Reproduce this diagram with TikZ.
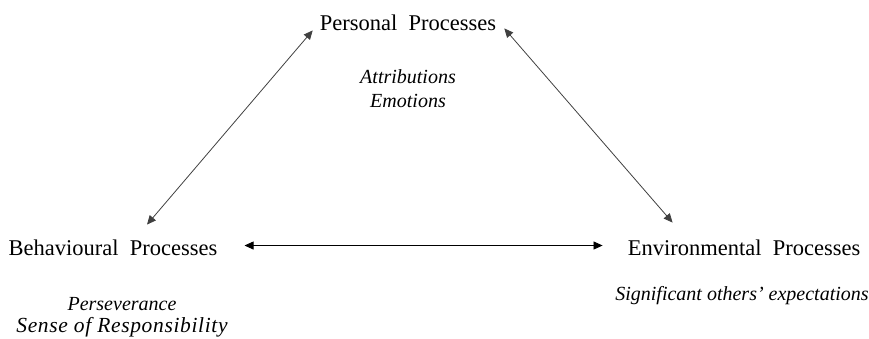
\documentclass[tikz,border=0pt]{standalone}
\usepackage{fontspec}
\setmainfont{Liberation Serif}
\usetikzlibrary{arrows.meta}

\begin{document}
\begin{tikzpicture}[x=1pt,y=-1pt,>={Triangle[length=9pt,width=8pt]},
  proc/.style={font=\fontsize{22.5}{27}\selectfont,inner sep=0pt,anchor=base},
  factor/.style={font=\fontsize{20}{24}\selectfont\itshape,inner sep=0pt,align=center,anchor=north},
  link/.style={<->,line width=0.8pt}]
  \useasboundingbox (0,0) rectangle (869,338);
  \node[proc] (per) at (408,30) {Personal\ \ Processes};
  \node[proc] (beh) at (113,255) {Behavioural\ \ Processes};
  \node[proc] (env) at (744,255) {Environmental\ \ Processes};
  \node[factor] (perf) at (408,69.5) {Attributions\\Emotions};
  \node[factor,font=\fontsize{20}{22}\selectfont\itshape] (behf) at (122,297) {Perseverance\\{\fontsize{21.5}{22}\selectfont\addfontfeature{LetterSpace=3}Sense of Responsibility}};
  \node[factor] (envf) at (742,286) {Significant others’ expectations};
  \draw[link,black!75] ([xshift=34pt,yshift=14.6pt]beh.north) -- ([xshift=-7pt]per.south west);
  \draw[link,black!75] ([xshift=8pt,yshift=2pt]per.south east) -- ([xshift=45pt,yshift=16.6pt]env.north west);
  \draw[link] ([xshift=27pt,yshift=1.8pt]beh.east) -- ([xshift=-25pt,yshift=1.8pt]env.west);
\end{tikzpicture}
\end{document}
